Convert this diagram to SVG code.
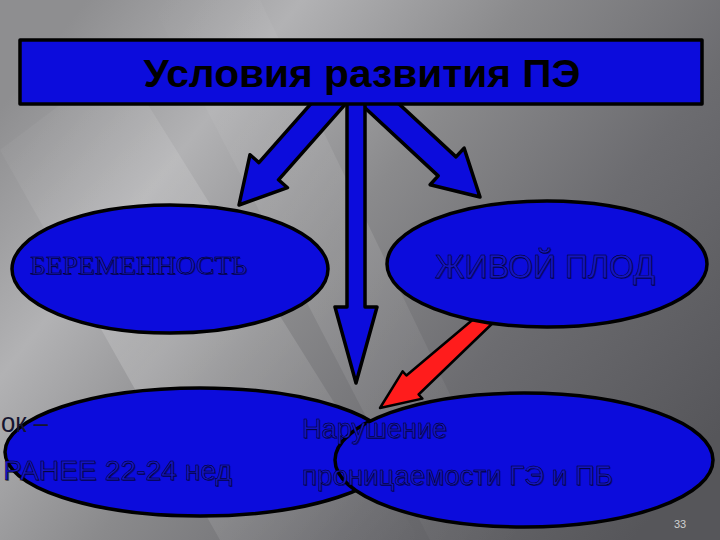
<svg xmlns="http://www.w3.org/2000/svg" width="720" height="540" viewBox="0 0 720 540">
<defs>
<linearGradient id="bg" x1="0" y1="0.2" x2="1" y2="0.8">
<stop offset="0" stop-color="#8e8e90"/>
<stop offset="0.22" stop-color="#b2b2b4"/>
<stop offset="0.45" stop-color="#8a8a8c"/>
<stop offset="0.7" stop-color="#6c6c70"/>
<stop offset="1" stop-color="#56565a"/>
</linearGradient>
<linearGradient id="streak" x1="0" y1="0" x2="1" y2="1">
<stop offset="0" stop-color="#ffffff" stop-opacity="0"/>
<stop offset="0.5" stop-color="#ffffff" stop-opacity="0.18"/>
<stop offset="1" stop-color="#ffffff" stop-opacity="0"/>
</linearGradient>
<style>
.blue{fill:#0c0cdc;stroke:#000;stroke-width:3.5;stroke-linejoin:round}
.red{fill:#ff1c1c;stroke:#000;stroke-width:2.5;stroke-linejoin:round}
.lbl{fill:#1414c0;stroke:#000;stroke-width:0.45}
.sh{fill:#000;opacity:0.4}
.sans{font-family:"Liberation Sans",Arial,sans-serif}
.serif{font-family:"Liberation Serif","Times New Roman",serif}
</style>
</defs>
<rect width="720" height="540" fill="url(#bg)"/>
<polygon points="0,150 120,60 420,540 220,540" fill="url(#streak)"/>
<polygon points="150,0 260,0 520,540 430,540" fill="url(#streak)" opacity="0.6"/>

<g id="connectors">
<polygon class="blue" points="350.2,98.6 278.5,179.8 287.5,187.7 239,205 250,154.7 258.9,162.6 330.7,81.4"/>
<polygon class="blue" points="356,99.5 438.2,175.9 430.1,184.7 480,197 464.1,148.1 456,156.9 373.8,80.5"/>
<polygon class="blue" points="347,90 365,90 365,307 377,307 356,383 335,307 347,307"/>
<polygon class="red" points="500.6,315.5 418.6,394.5 422.4,398.6 380,408 402.6,371.4 406.4,375.5 488.4,306.5"/>
</g>

<g id="title">
<rect class="blue" x="20" y="40" width="682" height="64"/>
<text class="sans" x="362" y="87" font-size="38" font-weight="bold" text-anchor="middle" textLength="437" lengthAdjust="spacingAndGlyphs" fill="#000">Условия развития ПЭ</text>
</g>

<g id="pregnancy">
<ellipse class="blue" cx="170" cy="269" rx="158" ry="64"/>
<text class="serif sh" x="31" y="275" font-size="26" textLength="217" lengthAdjust="spacingAndGlyphs">БЕРЕМЕННОСТЬ</text>
<text class="serif lbl" x="30" y="274" font-size="26" textLength="217" lengthAdjust="spacingAndGlyphs">БЕРЕМЕННОСТЬ</text>
</g>

<g id="fetus">
<ellipse class="blue" cx="547" cy="264" rx="160" ry="63"/>
<text class="sans sh" x="436" y="279" font-size="34" textLength="220" lengthAdjust="spacingAndGlyphs">ЖИВОЙ ПЛОД</text>
<text class="sans lbl" x="435" y="278" font-size="34" textLength="220" lengthAdjust="spacingAndGlyphs">ЖИВОЙ ПЛОД</text>
</g>

<g id="term">
<ellipse class="blue" cx="200" cy="452" rx="195" ry="64"/>
</g>

<g id="permeability">
<ellipse class="blue" cx="524" cy="460" rx="189" ry="67"/>
</g>

<g id="labels-bottom">
<text class="sans" x="1" y="432" font-size="28" textLength="47" lengthAdjust="spacingAndGlyphs" fill="#151530">ок –</text>
<text class="sans sh" x="4" y="481" font-size="28" textLength="229" lengthAdjust="spacingAndGlyphs">РАНЕЕ 22-24 нед</text>
<text class="sans lbl" x="3" y="480" font-size="28" textLength="229" lengthAdjust="spacingAndGlyphs">РАНЕЕ 22-24 нед</text>
<text class="sans sh" x="303" y="439" font-size="28" textLength="145" lengthAdjust="spacingAndGlyphs">Нарушение</text>
<text class="sans lbl" x="302" y="438" font-size="28" textLength="145" lengthAdjust="spacingAndGlyphs">Нарушение</text>
<text class="sans sh" x="303" y="486" font-size="28" textLength="311" lengthAdjust="spacingAndGlyphs">проницаемости ГЭ и ПБ</text>
<text class="sans lbl" x="302" y="485" font-size="28" textLength="311" lengthAdjust="spacingAndGlyphs">проницаемости ГЭ и ПБ</text>
</g>

<text class="sans" x="680" y="528" font-size="11" text-anchor="middle" fill="#d0d0d0">33</text>
</svg>
